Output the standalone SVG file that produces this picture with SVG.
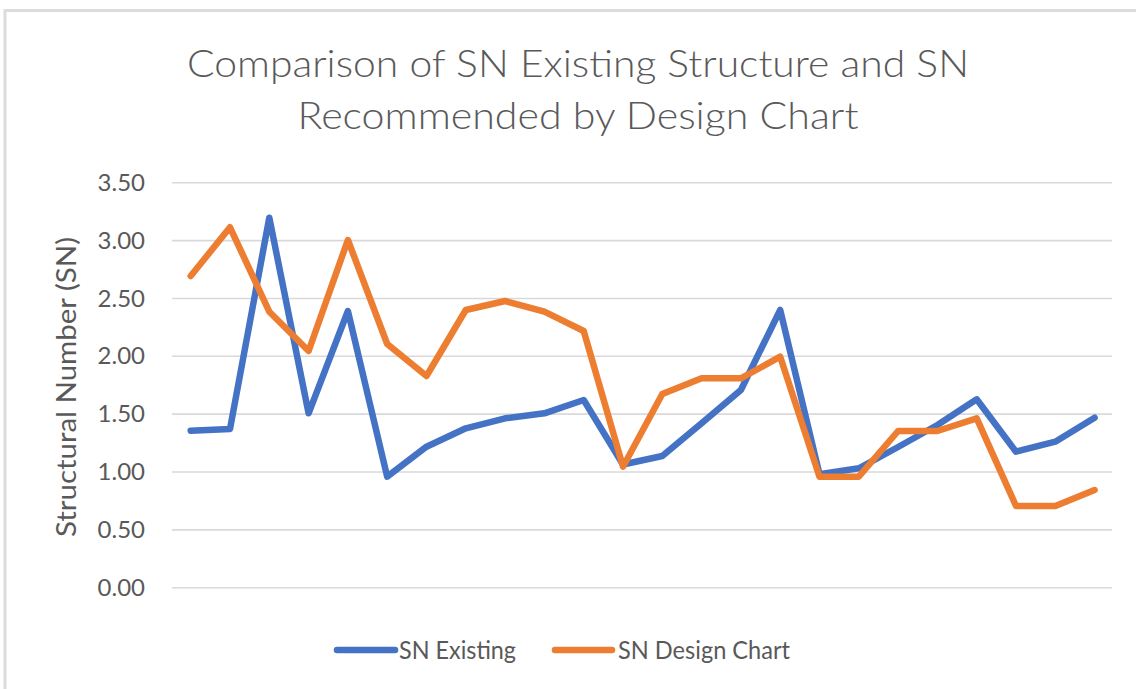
<svg xmlns="http://www.w3.org/2000/svg" width="1136" height="689" viewBox="0 0 1136 689">
<style>
text{font-family:Lato,"Open Sans","Liberation Sans",sans-serif;fill:#595959}
.grid{stroke:#D9D9D9;stroke-width:1.6}
.tick{font-size:24px;text-anchor:end}
.ser{fill:none;stroke-width:6.5;stroke-linejoin:round;stroke-linecap:round}
.blue{stroke:#4472C4}
.orange{stroke:#ED7D31}
</style>
<rect x="0" y="0" width="1136" height="689" fill="#ffffff"/>
<path d="M5 689V10.5H1136" fill="none" stroke="#DCDCDC" stroke-width="3"/>
<g id="title">
<text x="578" y="77" font-size="37.5" font-weight="300" text-anchor="middle" textLength="782" lengthAdjust="spacingAndGlyphs">Comparison of SN Existing Structure and SN</text>
<text x="578" y="129" font-size="37.5" font-weight="300" text-anchor="middle" textLength="561" lengthAdjust="spacingAndGlyphs">Recommended by Design Chart</text>
</g>
<g id="gridlines">
<line class="grid" x1="172" y1="182.75" x2="1112" y2="182.75"/>
<line class="grid" x1="172" y1="240.6" x2="1112" y2="240.6"/>
<line class="grid" x1="172" y1="298.45" x2="1112" y2="298.45"/>
<line class="grid" x1="172" y1="356.3" x2="1112" y2="356.3"/>
<line class="grid" x1="172" y1="414.15" x2="1112" y2="414.15"/>
<line class="grid" x1="172" y1="472" x2="1112" y2="472"/>
<line class="grid" x1="172" y1="529.85" x2="1112" y2="529.85"/>
<line class="grid" x1="172" y1="587.7" x2="1112" y2="587.7"/>
</g>
<g id="y-axis">
<text class="tick" x="145" y="190.8">3.50</text>
<text class="tick" x="145" y="248.6">3.00</text>
<text class="tick" x="145" y="306.5">2.50</text>
<text class="tick" x="145" y="364.3">2.00</text>
<text class="tick" x="145" y="422.2">1.50</text>
<text class="tick" x="145" y="480">1.00</text>
<text class="tick" x="145" y="537.9">0.50</text>
<text class="tick" x="145" y="595.7">0.00</text>
<text transform="translate(76,387) rotate(-90)" font-size="26" text-anchor="middle" textLength="300" lengthAdjust="spacingAndGlyphs">Structural Number (SN)</text>
</g>
<g id="series">
<polyline id="sn-existing" class="ser blue" points="190.7,430.7 230,429 269.3,217.7 308.6,413.3 347.9,311 387.2,476.7 426.5,446.7 465.8,428.3 505.1,418.3 544.4,413.3 583.7,400 623,464.5 662.3,456 701.6,423.3 740.9,390 780.2,310 819.5,474.3 858.8,468.3 898.1,447 937.4,425 976.7,399.3 1016,451.7 1055.3,441.7 1094.6,417.7"/>
<polyline id="sn-design-chart" class="ser orange" points="190.7,276 230,227.3 269.3,311.7 308.6,351 347.9,240 387.2,344 426.5,376 465.8,310 505.1,301 544.4,311.7 583.7,331 623,466.7 662.3,394 701.6,378.3 740.9,378.3 780.2,356.7 819.5,476.7 858.8,476.7 898.1,431 937.4,431 976.7,418.3 1016,506 1055.3,506 1094.6,490"/>
</g>
<g id="legend">
<line class="ser blue" x1="337" y1="650" x2="395" y2="650"/>
<text x="399" y="659" font-size="25" textLength="117" lengthAdjust="spacingAndGlyphs">SN Existing</text>
<line class="ser orange" x1="555" y1="650" x2="612" y2="650"/>
<text x="618" y="659" font-size="25" textLength="172" lengthAdjust="spacingAndGlyphs">SN Design Chart</text>
</g>
</svg>
